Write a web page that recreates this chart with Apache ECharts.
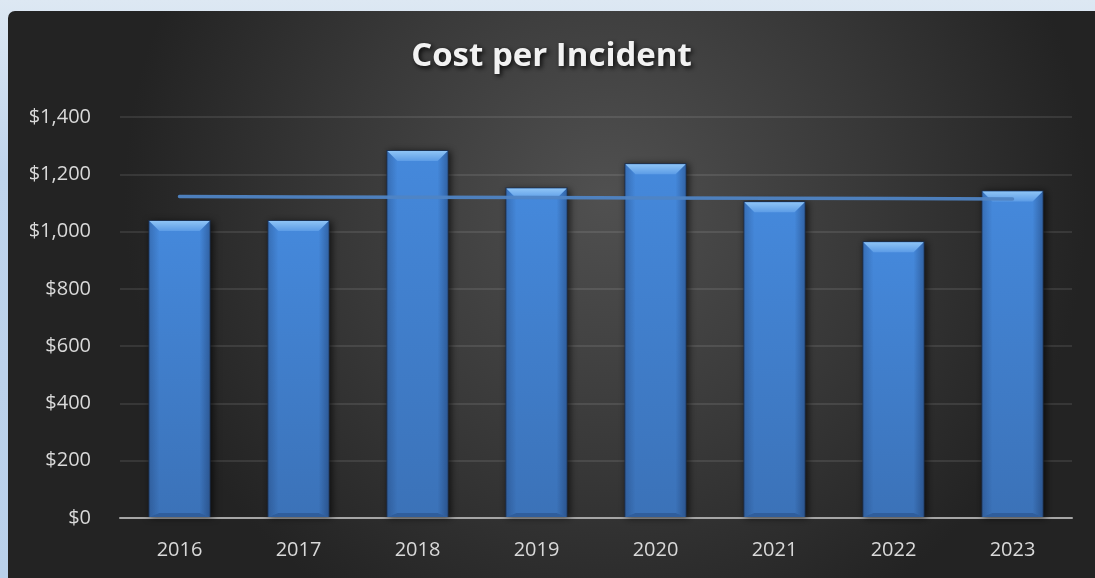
<!DOCTYPE html>
<html>
<head>
<meta charset="utf-8">
<script src="https://cdn.jsdelivr.net/npm/echarts@6/dist/echarts.min.js"></script>
<style>
  html, body { margin: 0; padding: 0; width: 1095px; height: 578px; overflow: hidden;
    background: linear-gradient(180deg, #dde8f3 0%, #bfd4ec 30%, #b9d0ea 100%); }
  #chart { position: absolute; left: 8px; top: 11px; width: 1087px; height: 567px;
    border-top-left-radius: 7px; overflow: hidden; }
</style>
</head>
<body>
<div id="chart"></div>
<script>
const titleText = 'Cost per Incident';
const categories = ['2016', '2017', '2018', '2019', '2020', '2021', '2022', '2023'];
const costs = [1037, 1037, 1281, 1150, 1235, 1102, 963, 1140];
const yMin = 0, yMax = 1400, yStep = 200;

// linear trendline (least squares) over the bar values
const n = costs.length;
const mx = (n - 1) / 2;
const my = costs.reduce((a, b) => a + b, 0) / n;
let sxy = 0, sxx = 0;
costs.forEach((v, i) => { sxy += (i - mx) * (v - my); sxx += (i - mx) * (i - mx); });
const slope = sxy / sxx;
const trend = costs.map((v, i) => +(my + slope * (i - mx)).toFixed(2));

function renderBar(params, api) {
  const idx = api.value(0), val = api.value(1);
  const top = api.coord([idx, val]);
  const base = api.coord([idx, 0]);
  const bw = api.size([1, 0])[0] * 0.505;
  const x0 = top[0] - bw / 2, x1 = top[0] + bw / 2;
  const y0 = top[1], y1 = base[1] - 1;
  const h = y1 - y0;
  const b = 10, bb = 4;
  return {
    type: 'group',
    children: [
      { type: 'rect', shape: { x: x0 - 1, y: y0 - 1, width: bw + 2, height: h + 1 },
        style: { fill: '#1d3150', shadowBlur: 7, shadowColor: 'rgba(0,0,0,0.65)', shadowOffsetX: 2, shadowOffsetY: 1 } },
      { type: 'rect', shape: { x: x0, y: y0, width: bw, height: h },
        style: { fill: new echarts.graphic.LinearGradient(0, 0, 0, 1, [
          { offset: 0, color: '#4589dc' }, { offset: 1, color: '#3b72b8' }]) } },
      { type: 'polygon', shape: { points: [[x0, y0], [x0 + b, y0 + b], [x0 + b, y1 - bb], [x0, y1]] },
        style: { fill: new echarts.graphic.LinearGradient(0, 0, 1, 0, [
          { offset: 0, color: 'rgba(10,25,60,0.22)' }, { offset: 1, color: 'rgba(10,25,60,0.0)' }]) } },
      { type: 'polygon', shape: { points: [[x1, y0], [x1 - b, y0 + b], [x1 - b, y1 - bb], [x1, y1]] },
        style: { fill: new echarts.graphic.LinearGradient(1, 0, 0, 0, [
          { offset: 0, color: 'rgba(10,25,60,0.32)' }, { offset: 1, color: 'rgba(10,25,60,0.0)' }]) } },
      { type: 'polygon', shape: { points: [[x0, y1], [x0 + b, y1 - bb], [x1 - b, y1 - bb], [x1, y1]] },
        style: { fill: 'rgba(10,25,60,0.22)' } },
      { type: 'polygon', shape: { points: [[x0, y0], [x1, y0], [x1 - b, y0 + b], [x0 + b, y0 + b]] },
        style: { fill: new echarts.graphic.LinearGradient(0, 0, 0, 1, [
          { offset: 0, color: '#8ec4f6' }, { offset: 1, color: '#5c9ce6' }]) } }
    ]
  };
}

const chart = echarts.init(document.getElementById('chart'), null, { renderer: 'canvas' });
chart.setOption({
  animation: false,
  backgroundColor: {
    type: 'radial', x: 0.55, y: 0.33, r: 0.85,
    colorStops: [
      { offset: 0, color: '#505050' },
      { offset: 0.55, color: '#383838' },
      { offset: 1, color: '#232323' }
    ]
  },
  title: {
    text: titleText,
    left: 'center',
    top: 24,
    textStyle: {
      fontFamily: 'Open Sans', fontWeight: 'bold', fontSize: 33, color: '#f2f2f2',
      textShadowColor: 'rgba(0,0,0,0.85)', textShadowBlur: 5, textShadowOffsetX: 2, textShadowOffsetY: 2
    }
  },
  grid: { left: 112, right: 23, top: 106, bottom: 60, containLabel: false },
  xAxis: {
    type: 'category',
    data: categories,
    axisLine: { show: true, lineStyle: { color: '#a6a6a6', width: 2 } },
    axisTick: { show: false },
    axisLabel: { color: '#d9d9d9', fontFamily: 'Open Sans', fontSize: 20, margin: 22 },
    splitLine: { show: false }
  },
  yAxis: {
    type: 'value',
    min: yMin, max: yMax, interval: yStep,
    axisLine: { show: false },
    axisTick: { show: false },
    axisLabel: {
      color: '#d9d9d9', fontFamily: 'Open Sans', fontSize: 20, margin: 29,
      formatter: v => '$' + v.toLocaleString('en-US')
    },
    splitLine: { lineStyle: { color: 'rgba(255,255,255,0.13)', width: 1.5 } }
  },
  series: [
    {
      type: 'custom',
      renderItem: renderBar,
      data: costs.map((v, i) => [i, v]),
      encode: { x: 0, y: 1 },
      z: 2
    },
    {
      type: 'line',
      data: trend,
      symbol: 'none',
      lineStyle: { color: '#4f84c4', width: 3.5, cap: 'round', opacity: 0.95 },
      z: 5
    }
  ]
});
</script>
</body>
</html>
